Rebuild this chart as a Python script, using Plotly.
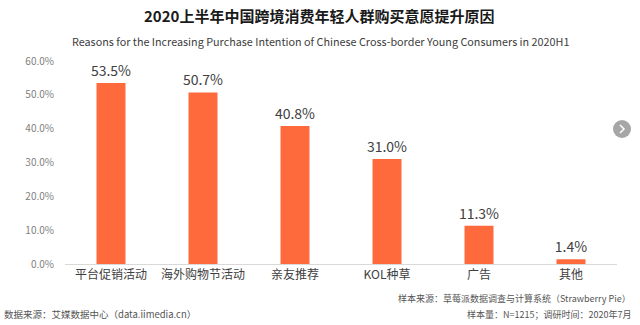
import plotly.graph_objects as go

categories = ["平台促销活动", "海外购物节活动", "亲友推荐", "KOL种草", "广告", "其他"]
shares = [53.5, 50.7, 40.8, 31.0, 11.3, 1.4]
tick_values = [0, 10, 20, 30, 40, 50, 60]
tick_labels = [f"{v:.1f}%" for v in tick_values]

title_cn = "2020上半年中国跨境消费年轻人群购买意愿提升原因"
title_en = "Reasons for the Increasing Purchase Intention of Chinese Cross-border Young Consumers in 2020H1"
source_left = "数据来源：艾媒数据中心（data.iimedia.cn）"
source_right_1 = "样本来源：草莓派数据调查与计算系统（Strawberry Pie）"
source_right_2 = "样本量：N=1215；调研时间：2020年7月"

FONT = "Noto Sans CJK SC"
BAR_COLOR = "#FF6A3D"

# Plot area in pixels: x 65..617, y 61..264
PL, PR, PT, PB = 65, 617, 61, 264


def px(xpix):
    return (xpix - PL) / (PR - PL)


def py(ypix):
    return (PB - ypix) / (PB - PT)


fig = go.Figure(
    go.Bar(
        x=categories,
        y=shares,
        marker=dict(color=BAR_COLOR, line=dict(width=0)),
        text=[f"{v:.1f}%" for v in shares],
        textposition="outside",
        constraintext="none",
        textfont=dict(family=FONT, size=14, color="#404040"),
        cliponaxis=False,
    )
)

fig.update_layout(
    width=640,
    height=325,
    margin=dict(l=PL, r=640 - PR, t=PT, b=325 - PB),
    paper_bgcolor="white",
    plot_bgcolor="white",
    bargap=0.685,
    showlegend=False,
    font=dict(family=FONT),
    xaxis=dict(
        showgrid=False,
        showline=True,
        linecolor="#D9D9D9",
        linewidth=1,
        ticks="",
        tickfont=dict(family=FONT, size=12, color="#404040"),
    ),
    yaxis=dict(
        range=[0, 60],
        tickvals=tick_values,
        ticktext=tick_labels,
        showgrid=False,
        zeroline=False,
        showline=False,
        ticks="",
        ticklabelstandoff=10,
        tickfont=dict(family=FONT, size=10, color="#808080"),
    ),
)

# Titles
fig.add_annotation(text=f"<b>{title_cn}</b>", xref="paper", yref="paper",
                   x=px(319), y=py(16), xanchor="center", yanchor="middle",
                   showarrow=False, font=dict(family=FONT, size=15, color="#1A1A1A"))
fig.add_annotation(text=title_en, xref="paper", yref="paper",
                   x=px(320), y=py(41), xanchor="center", yanchor="middle",
                   showarrow=False, font=dict(family=FONT, size=10.8, color="#404040"))

# Footnotes
fig.add_annotation(text=source_right_1, xref="paper", yref="paper",
                   x=px(633), y=py(298), xanchor="right", yanchor="middle",
                   showarrow=False, font=dict(family=FONT, size=9, color="#555555"))
fig.add_annotation(text=source_right_2, xref="paper", yref="paper",
                   x=px(633), y=py(314), xanchor="right", yanchor="middle",
                   showarrow=False, font=dict(family=FONT, size=9, color="#555555"))
fig.add_annotation(text=source_left, xref="paper", yref="paper",
                   x=px(2), y=py(314), xanchor="left", yanchor="middle",
                   showarrow=False, font=dict(family=FONT, size=9.5, color="#555555"))

# Carousel "next" button on the right edge
cx, cy, r = 622, 129, 9
fig.add_shape(type="circle", xref="paper", yref="paper",
              x0=px(cx - r), x1=px(cx + r), y0=py(cy + r), y1=py(cy - r),
              fillcolor="#A6A6A6", line=dict(width=0), layer="above")
fig.add_shape(type="path", xref="paper", yref="paper",
              path=(f"M {px(cx - 2)},{py(cy - 4)} "
                    f"L {px(cx + 2)},{py(cy)} "
                    f"L {px(cx - 2)},{py(cy + 4)}"),
              line=dict(color="white", width=1.5), layer="above")

fig.write_html("out.html")
